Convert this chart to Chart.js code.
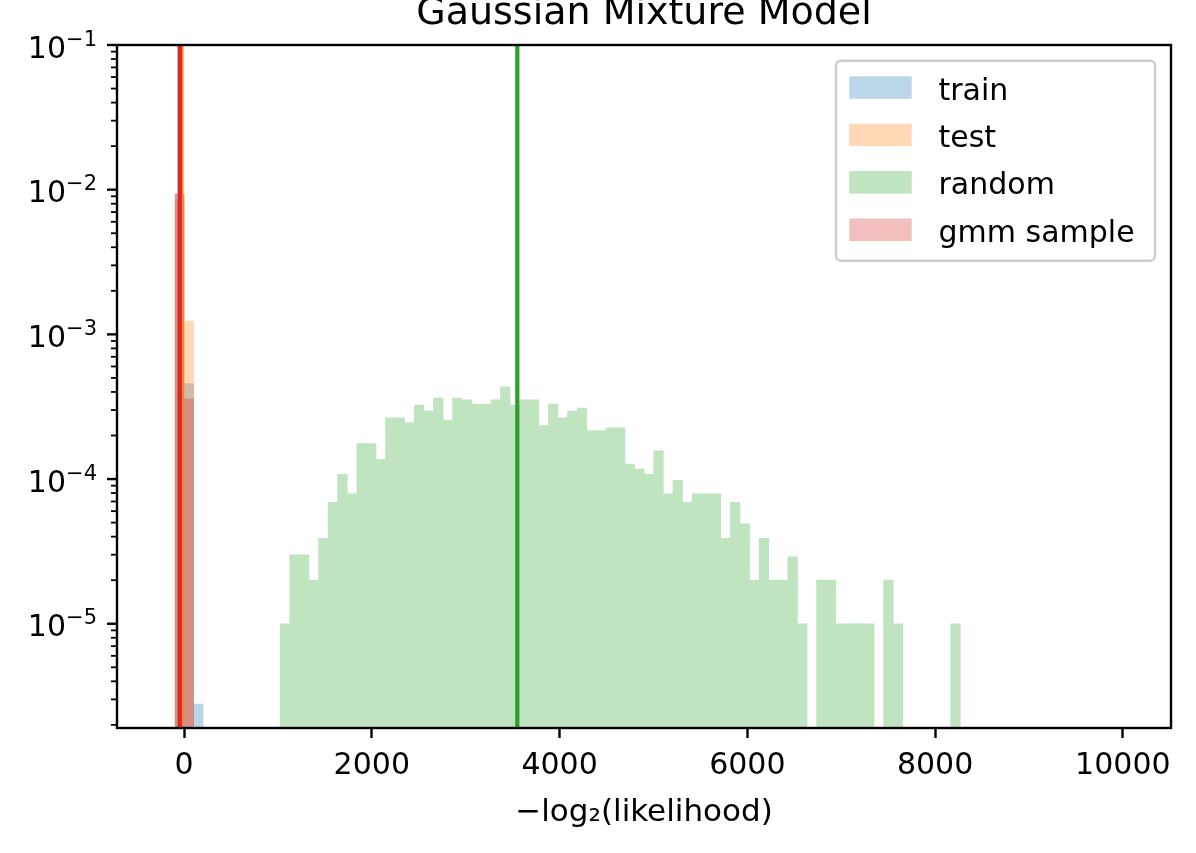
<!DOCTYPE html>
<html>
<head>
<meta charset="utf-8">
<title>Gaussian Mixture Model</title>
<script src="https://cdn.jsdelivr.net/npm/chart.js@4.4.1/dist/chart.umd.min.js"></script>
<style>
  html, body { margin: 0; padding: 0; background: #fff; }
  #wrap { position: relative; width: 1196px; height: 853px; }
</style>
</head>
<body>
<div id="wrap"><canvas id="gmm-chart"></canvas></div>
<script>
// histogram bins (shared by every series)
const binStart = -200;
const binWidth = 102.03;

// densities, one value per bin starting at the given bin index
const trainFirstBin = 1;
const trainDensity = [9.34e-3, 4.6e-4, 2.8e-6];
const testFirstBin = 1;
const testDensity = [8.56e-3, 1.24e-3];
const gmmFirstBin = 1;
const gmmDensity = [9.44e-3, 3.6e-4];
const randomFirstBin = 12;
const randomDensity = [
  1.0e-5, 3.0e-5, 3.0e-5, 2.0e-5, 3.9e-5, 6.9e-5, 1.08e-4, 7.9e-5, 1.76e-4, 1.76e-4,
  1.37e-4, 2.65e-4, 2.65e-4, 2.46e-4, 3.24e-4, 2.95e-4, 3.63e-4, 2.56e-4, 3.63e-4, 3.53e-4,
  3.3e-4, 3.3e-4, 3.53e-4, 4.34e-4, 3.24e-4, 3.53e-4, 3.53e-4, 2.34e-4, 3.3e-4, 2.65e-4,
  2.95e-4, 3.1e-4, 2.16e-4, 2.16e-4, 2.26e-4, 2.26e-4, 1.27e-4, 1.17e-4, 1.08e-4, 1.57e-4,
  7.9e-5, 9.8e-5, 6.9e-5, 7.9e-5, 7.9e-5, 7.9e-5, 3.9e-5, 6.9e-5, 4.9e-5, 2.0e-5,
  3.9e-5, 2.0e-5, 2.0e-5, 2.9e-5, 1.0e-5, 0, 2.0e-5, 2.0e-5, 1.0e-5, 1.0e-5,
  1.0e-5, 1.0e-5, 0, 2.0e-5, 1.0e-5, 0, 0, 0, 0, 0,
  1.0e-5
];

// series names and their mean lines
const seriesNames = ['train', 'test', 'random', 'gmm sample'];
const meanValues = [-40, -28, 3550, -46];

// axes
const xMin = -714;
const xMax = 10513;
const xTicks = [0, 2000, 4000, 6000, 8000, 10000];
const yMin = 1.903e-6;
const yMax = 0.1;
const yDecades = [-5, -4, -3, -2, -1];
const yMinorMult = [2, 3, 4, 5, 6, 7, 8, 9];

const FONT = "'DejaVu Sans', sans-serif";
const barColors = ['rgba(31,119,180,0.3)', 'rgba(255,127,14,0.3)', '#c0e3c0', 'rgba(214,39,40,0.3)'];
const lineColors = ['#1f77b4', '#ff7f0e', '#2ca02c', '#d62728'];

function toPoints(firstBin, values) {
  return values
    .map((v, i) => ({ x: binStart + (firstBin + i + 0.5) * binWidth, y: v }))
    .filter(p => p.y > 0);
}

const barData = [
  toPoints(trainFirstBin, trainDensity),
  toPoints(testFirstBin, testDensity),
  toPoints(randomFirstBin, randomDensity),
  toPoints(gmmFirstBin, gmmDensity)
];

const datasets = [];
seriesNames.forEach((name, i) => {
  datasets.push({
    type: 'bar',
    label: name,
    data: barData[i],
    backgroundColor: barColors[i],
    borderWidth: 0,
    barPercentage: 1,
    categoryPercentage: 1,
    grouped: false,
    inflateAmount: i === 2 ? 'auto' : 0,
    order: 8 - i
  });
});
seriesNames.forEach((name, i) => {
  datasets.push({
    type: 'line',
    label: name + ' mean',
    data: [{ x: meanValues[i], y: yMin }, { x: meanValues[i], y: yMax }],
    borderColor: lineColors[i],
    borderWidth: 4.2,
    pointRadius: 0,
    fill: false,
    order: 4 - i
  });
});

// spines, log ticks with 10^n labels, and a matplotlib-style legend
const axesDecor = {
  id: 'axesDecor',
  afterDraw(chart) {
    const { ctx, chartArea: a } = chart;
    const y = chart.scales.y;
    ctx.save();
    ctx.strokeStyle = '#000';
    ctx.fillStyle = '#000';

    // minor ticks
    ctx.lineWidth = 1.8;
    yDecades.concat([-6]).forEach(e => {
      yMinorMult.forEach(m => {
        const v = m * Math.pow(10, e);
        if (v < yMin || v > yMax) return;
        const py = y.getPixelForValue(v);
        ctx.beginPath();
        ctx.moveTo(a.left - 6, py);
        ctx.lineTo(a.left, py);
        ctx.stroke();
      });
    });

    // major ticks and labels
    ctx.lineWidth = 2.4;
    ctx.textAlign = 'right';
    ctx.textBaseline = 'alphabetic';
    yDecades.forEach(e => {
      const py = y.getPixelForValue(Math.pow(10, e));
      ctx.beginPath();
      ctx.moveTo(a.left - 10, py);
      ctx.lineTo(a.left, py);
      ctx.stroke();
      const sup = '\u2212' + Math.abs(e);
      ctx.font = '21px ' + FONT;
      const supW = ctx.measureText(sup).width;
      ctx.fillText(sup, 97, py + 0.5);
      ctx.font = '30px ' + FONT;
      ctx.fillText('10', 97 - supW, py + 12.5);
    });

    // spines
    ctx.lineWidth = 2.4;
    ctx.strokeRect(a.left, a.top, a.right - a.left, a.bottom - a.top);

    // legend
    const lx = 836, ly = 60.7, lw = 319, lh = 200;
    ctx.beginPath();
    ctx.roundRect(lx, ly, lw, lh, 5);
    ctx.fillStyle = 'rgba(255,255,255,0.8)';
    ctx.fill();
    ctx.strokeStyle = '#cccccc';
    ctx.lineWidth = 2.4;
    ctx.stroke();
    ctx.font = '30px ' + FONT;
    ctx.textAlign = 'left';
    chart.data.datasets.filter(d => d.type === 'bar').forEach((d, i) => {
      const cy = 87.5 + i * 47.4;
      ctx.fillStyle = d.backgroundColor;
      ctx.fillRect(849.3, cy - 11.2, 62.4, 22.5);
      ctx.fillStyle = '#000';
      ctx.fillText(d.label, 938.5, cy + 12);
    });
    ctx.restore();
  }
};

Chart.defaults.font.family = FONT;
Chart.defaults.color = '#000';

new Chart(document.getElementById('gmm-chart'), {
  type: 'bar',
  data: { datasets: datasets },
  options: {
    responsive: true,
    maintainAspectRatio: false,
    animation: false,
    layout: { padding: { left: 0, right: 25, top: 0, bottom: 0 } },
    plugins: {
      legend: { display: false },
      tooltip: { enabled: false },
      title: {
        display: true,
        text: 'Gaussian Mixture Model',
        fullSize: false,
        color: '#000',
        font: { family: FONT, size: 38, weight: 'normal', lineHeight: 0.75 },
        padding: { top: 0, bottom: 16.5 }
      }
    },
    scales: {
      x: {
        type: 'linear',
        min: xMin,
        max: xMax,
        offset: false,
        grid: { offset: false, drawOnChartArea: false, tickLength: 10, tickWidth: 2.4, tickColor: '#000' },
        border: { display: false },
        afterBuildTicks: s => { s.ticks = xTicks.map(v => ({ value: v })); },
        ticks: {
          maxRotation: 0,
          autoSkip: false,
          padding: 10,
          font: { size: 30 },
          color: '#000',
          callback: v => String(v)
        },
        title: {
          display: true,
          text: '\u2212log\u2082(likelihood)',
          color: '#000',
          font: { size: 31 },
          padding: { top: 0, bottom: 21 }
        },
        afterFit: s => { s.height = 125; }
      },
      y: {
        type: 'logarithmic',
        min: yMin,
        max: yMax,
        grid: { display: false },
        border: { display: false },
        ticks: { display: false },
        afterFit: s => { s.width = 117; }
      }
    }
  },
  plugins: [axesDecor]
});
</script>
</body>
</html>
